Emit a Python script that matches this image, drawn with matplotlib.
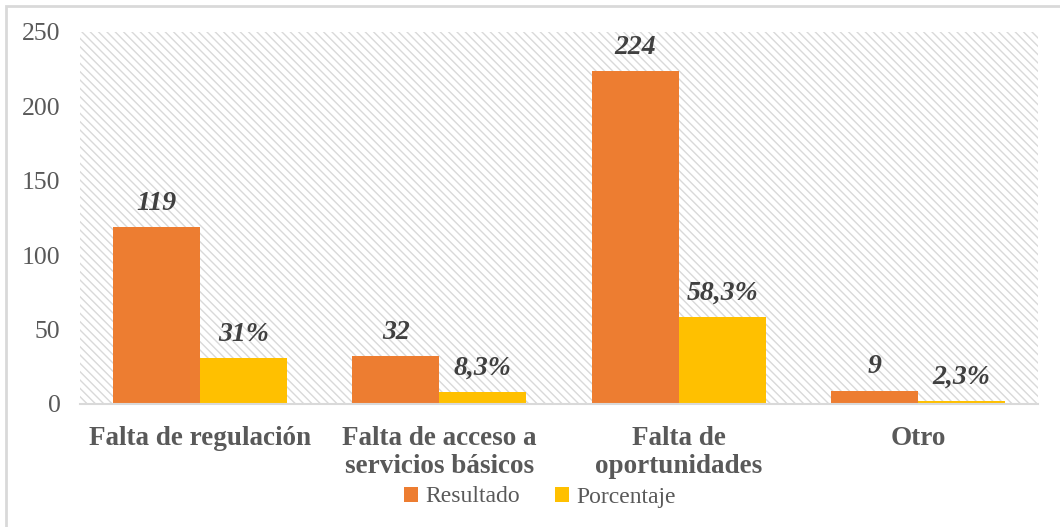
import matplotlib
matplotlib.use('Agg')
import matplotlib.pyplot as plt
from matplotlib.patches import Rectangle
import numpy as np

# Data
categories = ['Falta de regulación', 'Falta de acceso a\nservicios básicos',
              'Falta de\noportunidades', 'Otro']
resultado = [119, 32, 224, 9]
porcentaje = [31, 8.3, 58.3, 2.3]
resultado_labels = ['119', '32', '224', '9']
porcentaje_labels = ['31%', '8,3%', '58,3%', '2,3%']
yticks = [0, 50, 100, 150, 200, 250]

orange = '#ED7D31'
gold = '#FFC000'
text_gray = '#595959'
grid_gray = '#D9D9D9'

plt.rcParams['font.family'] = ['Liberation Serif', 'DejaVu Serif']
plt.rcParams['hatch.color'] = '#D9D9D9'
plt.rcParams['hatch.linewidth'] = 1.0

fig = plt.figure(figsize=(10.6, 5.27), dpi=100)
ax = fig.add_axes([80 / 1060, 1 - 404 / 527, 958 / 1060, 372 / 527])

# Outer chart border (left and top visible)
fig.patches.append(Rectangle((6 / 1060, -0.1), 1.2, 1 - 6 / 527 + 0.1,
                             transform=fig.transFigure, fill=False,
                             edgecolor=grid_gray, linewidth=2, zorder=0))

# Hatched plot area background
ax.set_facecolor('white')
ax.add_patch(Rectangle((0, 0), 1, 1, transform=ax.transAxes, facecolor='white',
                       edgecolor=grid_gray, hatch='\\\\\\\\', linewidth=0, zorder=0))

x = np.arange(len(categories))
w = 0.363
b1 = ax.bar(x - w / 2, resultado, w, color=orange, label='Resultado', zorder=2)
b2 = ax.bar(x + w / 2, porcentaje, w, color=gold, label='Porcentaje', zorder=2)

for bars, labels in ((b1, resultado_labels), (b2, porcentaje_labels)):
    for bar, lab in zip(bars, labels):
        ax.annotate(lab, (bar.get_x() + bar.get_width() / 2, bar.get_height()),
                    xytext=(0, 8), textcoords='offset points', ha='center', va='bottom',
                    fontsize=20, fontweight='bold', fontstyle='italic', color='#404040')

ax.set_xlim(-0.5, 3.5)
ax.set_ylim(0, 250)
ax.set_yticks(yticks)
ax.set_yticklabels([str(t) for t in yticks], fontsize=18.5, color=text_gray)
ax.set_xticks(x)
ax.set_xticklabels(categories, fontsize=19.5, fontweight='bold', color=text_gray,
                   linespacing=1.12)
ax.tick_params(axis='both', length=0)
ax.tick_params(axis='y', pad=14)
ax.tick_params(axis='x', pad=16)
for s in ('left', 'right', 'top'):
    ax.spines[s].set_visible(False)
ax.spines['bottom'].set_color(grid_gray)
ax.spines['bottom'].set_linewidth(1.5)
ax.spines['bottom'].set_zorder(3)

leg = fig.legend(loc='center', bbox_to_anchor=(540 / 1060, 1 - 497 / 527), ncol=2,
                 frameon=False, fontsize=17, handlelength=0.6, handleheight=0.6,
                 handletextpad=0.3, columnspacing=1.5, labelcolor=text_gray)

fig.savefig('out.png', dpi=100)
